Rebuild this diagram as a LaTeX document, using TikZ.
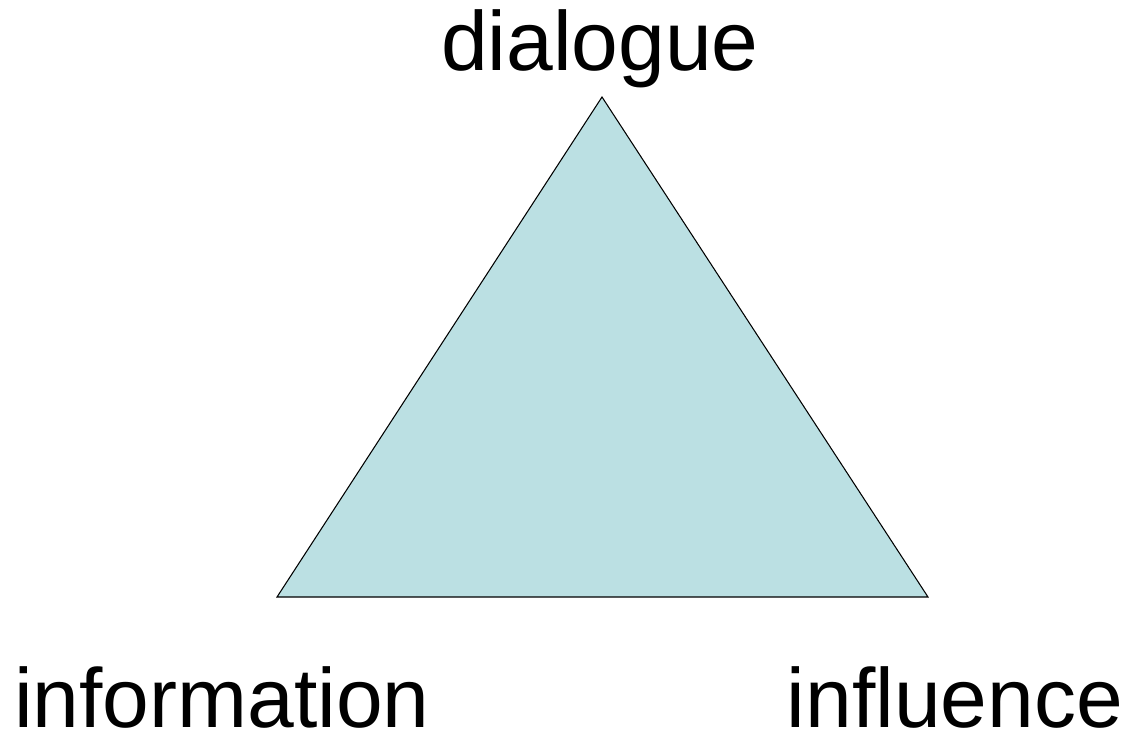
\documentclass[tikz,border=0pt]{standalone}
\usepackage{fontspec}
\setmainfont{Liberation Sans}[Ligatures=NoCommon]
\usepackage{tikz}
\usetikzlibrary{positioning}

\begin{document}
\begin{tikzpicture}[x=0.02cm, y=-0.02cm,
    corner/.style={font=\fontsize{47.8}{57}\selectfont, anchor=base, inner sep=0pt}]
    % Triangle colour
    \definecolor{ctri}{HTML}{BBE0E3}

    \useasboundingbox (0,0) rectangle (1132,734);

    % Corners of the triangle
    \coordinate (top) at (602,97);
    \coordinate (left) at (277,597);
    \coordinate (right) at (928,597);
    \filldraw[fill=ctri, draw=black, line width=0.6pt, line join=miter] (top) -- (left) -- (right) -- cycle;

    % Labels
    \node[corner] (dialogue) at (600,70) {dialogue};
    \node[corner] (information) at (222,727) {information};
    \node[corner] (influence) at (955,727) {influence};
\end{tikzpicture}
\end{document}
